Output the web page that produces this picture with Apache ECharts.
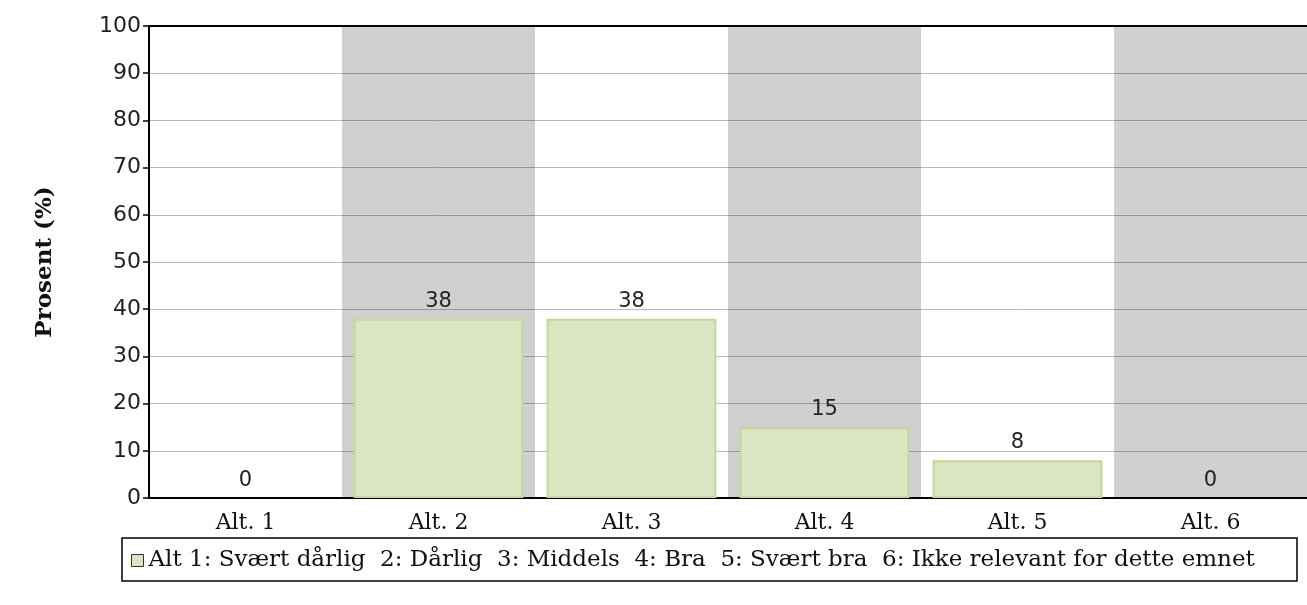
<!DOCTYPE html>
<html>
<head>
<meta charset="utf-8">
<script src="https://cdn.jsdelivr.net/npm/echarts@6/dist/echarts.min.js"></script>
<style>
  html, body { margin: 0; padding: 0; background: #fff; }
  #chart { width: 1307px; height: 605px; }
</style>
</head>
<body>
<div id="chart"></div>
<script>
// kategorier og verdier (prosent)
const categories = ['Alt. 1', 'Alt. 2', 'Alt. 3', 'Alt. 4', 'Alt. 5', 'Alt. 6'];
const values = [0, 38, 38, 15, 8, 0];
const yTicks = [0, 10, 20, 30, 40, 50, 60, 70, 80, 90, 100];
const seriesName = 'Alt 1: Svært dårlig  2: Dårlig  3: Middels  4: Bra  5: Svært bra  6: Ikke relevant for dette emnet';
const yTitle = 'Prosent (%)';

const chart = echarts.init(document.getElementById('chart'));

const serif = '"DejaVu Serif", serif';
const sans = '"DejaVu Sans", sans-serif';

const options = {
  animation: false,
  grid: {
    left: 149,
    right: -8,
    top: 26,
    bottom: 107,
  },
  // rammen rundt forklaringen
  graphic: [
    {
      type: 'rect',
      shape: { x: 122, y: 538, width: 1175, height: 43 },
      style: { fill: 'none', stroke: '#000', lineWidth: 1.5 },
      silent: true,
    },
  ],
  legend: {
    left: 126,
    top: 544,
    itemWidth: 12,
    itemHeight: 12,
    itemGap: 0,
    icon: 'rect',
    itemStyle: { borderColor: '#333', borderWidth: 1 },
    textStyle: { fontFamily: serif, fontSize: 23, color: '#111', padding: [0, 0, 0, 0] },
    data: [seriesName],
  },
  xAxis: [
    {
      type: 'category',
      data: categories,
      z: 0,
      axisLine: { lineStyle: { color: '#000', width: 2 } },
      axisTick: { alignWithLabel: true, length: 6, lineStyle: { color: '#000', width: 1.5 } },
      axisLabel: { fontFamily: serif, fontSize: 22, color: '#111', margin: 14 },
      splitArea: { show: true, areaStyle: { color: ['#ffffff', '#d0d0d0'] } },
    },
    {
      type: 'category',
      position: 'top',
      data: categories,
      z: 1,
      axisLine: { lineStyle: { color: '#000', width: 2 } },
      axisTick: { show: false },
      axisLabel: { show: false },
    },
  ],
  yAxis: {
    type: 'value',
    z: 1,
    min: yTicks[0],
    max: yTicks[yTicks.length - 1],
    interval: yTicks[1] - yTicks[0],
    name: yTitle,
    nameLocation: 'middle',
    nameRotate: 90,
    nameGap: 92,
    nameTextStyle: { fontFamily: serif, fontSize: 23, fontWeight: 'bold', color: '#111' },
    axisLine: { show: true, lineStyle: { color: '#000', width: 2 } },
    axisTick: { show: true, length: 6, lineStyle: { color: '#000', width: 1.5 } },
    axisLabel: { fontFamily: sans, fontSize: 22, color: '#222', margin: 8 },
    splitLine: { lineStyle: { color: 'rgba(0,0,0,0.28)', width: 1 } },
  },
  series: [
    {
      name: seriesName,
      type: 'bar',
      // null-stolper tegnes uten kant
      data: values.map((v) => (v === 0 ? { value: v, itemStyle: { borderWidth: 0 } } : v)),
      barCategoryGap: '12%',
      itemStyle: { color: '#dbe5c1', borderColor: '#c3d69b', borderWidth: 2 },
      label: {
        show: true,
        position: 'top',
        distance: 7,
        fontFamily: sans,
        fontSize: 21,
        color: '#222',
      },
    },
  ],
};
chart.setOption(options);
</script>
</body>
</html>
